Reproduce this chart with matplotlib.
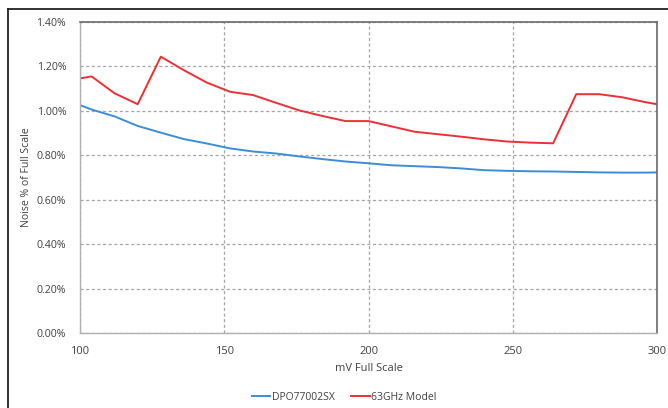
import matplotlib
matplotlib.use("Agg")
import matplotlib.pyplot as plt
from matplotlib.lines import Line2D
from matplotlib.ticker import FuncFormatter

plt.rcParams['font.family'] = ['Open Sans', 'DejaVu Sans']

mv = [100, 104, 112, 120, 128, 136, 144, 152, 160, 168, 176, 184, 192, 200,
      208, 216, 224, 232, 240, 248, 256, 264, 272, 280, 288, 296, 300]
dpo = [1.026, 1.006, 0.975, 0.932, 0.902, 0.873, 0.853, 0.831, 0.817, 0.808,
       0.795, 0.783, 0.772, 0.764, 0.755, 0.751, 0.747, 0.741, 0.733, 0.730,
       0.728, 0.727, 0.725, 0.723, 0.722, 0.722, 0.723]
model63 = [1.146, 1.155, 1.079, 1.030, 1.244, 1.183, 1.127, 1.086, 1.071, 1.036,
           1.002, 0.977, 0.954, 0.954, 0.930, 0.906, 0.895, 0.884, 0.872, 0.862,
           0.857, 0.854, 1.075, 1.075, 1.061, 1.039, 1.030]
series_names = ["DPO77002SX", "63GHz Model"]
x_ticks = [100, 150, 200, 250, 300]
y_ticks = [0.0, 0.2, 0.4, 0.6, 0.8, 1.0, 1.2, 1.4]

fig = plt.figure(figsize=(6.68, 4.08), dpi=100)
ax = fig.add_axes([80/668, 75/408, 577/668, 311/408])

l1, = ax.plot(mv, dpo, color="#3b8ed6", lw=1.4)
l2, = ax.plot(mv, model63, color="#ee2f35", lw=1.4)

ax.set_xlim(100, 300)
ax.set_ylim(0, 1.4)
ax.set_xticks(x_ticks)
ax.set_yticks(y_ticks)
ax.yaxis.set_major_formatter(FuncFormatter(lambda v, p: f"{v:.2f}%"))
ax.tick_params(length=0, labelsize=8, colors="#404040")
ax.tick_params(axis='y', pad=10, labelsize=7.6)
ax.tick_params(axis='x', pad=9)
ax.grid(True, color="#a6a6a6", linestyle=(0, (2.5, 2)), lw=0.9)
ax.set_axisbelow(True)
for s in ['left', 'bottom']:
    ax.spines[s].set_color("#b0b0b0")
    ax.spines[s].set_linewidth(1.0)
for s in ['top', 'right']:
    ax.spines[s].set_color("#6a6a6a")
    ax.spines[s].set_linewidth(1.2)

ax.set_xlabel("mV Full Scale", fontsize=8, color="#404040", labelpad=5)
ax.set_ylabel("Noise % of Full Scale", fontsize=7.6, color="#404040")
ax.yaxis.set_label_coords(-0.083, 0.5)

fig.legend([l1, l2], series_names, loc="center", bbox_to_anchor=(344/668, 1 - 397/408),
           ncol=2, frameon=False, fontsize=7.5, handlelength=1.8, handletextpad=0.1,
           columnspacing=1.6, labelcolor="#404040")

# outer border (top and left visible)
fig.add_artist(Line2D([8/668, 1.0], [1 - 9/408, 1 - 9/408], transform=fig.transFigure,
                      color="#222222", lw=1.3))
fig.add_artist(Line2D([8/668, 8/668], [0, 1 - 9/408], transform=fig.transFigure,
                      color="#222222", lw=1.3))

fig.savefig("out.png", dpi=100)
